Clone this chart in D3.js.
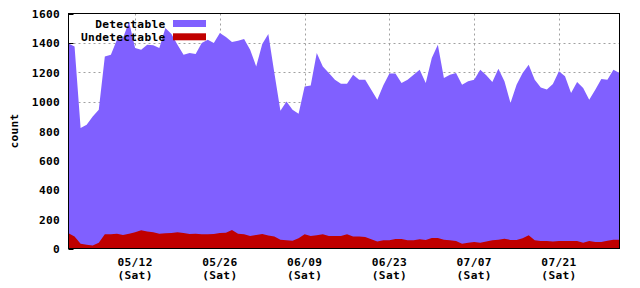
<!DOCTYPE html>
<html>
<head>
<meta charset="utf-8">
<script src="https://cdn.jsdelivr.net/npm/d3@7/dist/d3.min.js"></script>
<style>
  html, body { margin: 0; padding: 0; background: #fff; }
  svg { display: block; }
  text { font-family: "DejaVu Sans Mono", "Liberation Mono", monospace; font-weight: bold; font-size: 11.2px; letter-spacing: 0.3px; fill: #000; }
</style>
</head>
<body>
<svg id="chart" width="640" height="288"></svg>
<script>
// ---- data ----
const startDate = "2018-05-01";
const detectable = [
  1395, 1375, 820, 842, 899, 945, 1308, 1320, 1422, 1434,
  1543, 1365, 1354, 1388, 1383, 1365, 1502, 1461, 1388, 1320,
  1331, 1324, 1399, 1422, 1399, 1468, 1440, 1406, 1415, 1427,
  1354, 1240, 1393, 1461, 1195, 938, 1001, 945, 917, 1103,
  1110, 1331, 1240, 1195, 1149, 1122, 1122, 1183, 1149, 1149,
  1081, 1013, 1111, 1192, 1192, 1127, 1149, 1183, 1217, 1127,
  1297, 1388, 1161, 1183, 1195, 1115, 1138, 1149, 1217, 1179,
  1133, 1224, 1138, 990, 1115, 1195, 1251, 1149, 1097, 1083,
  1120, 1206, 1172, 1058, 1133, 1092, 1013, 1081, 1154, 1149,
  1217, 1195
];
const undetectable = [
  103, 82, 33, 26, 21, 40, 97, 97, 101, 92,
  101, 110, 124, 115, 110, 101, 103, 106, 110, 106,
  99, 101, 97, 97, 99, 106, 108, 126, 101, 97,
  85, 92, 99, 88, 81, 60, 56, 53, 69, 97,
  85, 90, 97, 85, 85, 85, 97, 82, 82, 79,
  63, 47, 56, 56, 65, 65, 56, 56, 63, 58,
  72, 72, 60, 56, 51, 33, 40, 44, 40, 47,
  56, 60, 67, 58, 58, 69, 90, 56, 51, 51,
  47, 51, 51, 51, 51, 40, 51, 44, 44, 53,
  60, 60
];
const seriesNames = ["Detectable", "Undetectable"];
const seriesColors = ["#8060ff", "#c00000"];
const yTicks = [0, 200, 400, 600, 800, 1000, 1200, 1400, 1600];
const xTickDates = ["2018-05-12", "2018-05-26", "2018-06-09", "2018-06-23", "2018-07-07", "2018-07-21"];
const xTickLabels = ["05/12", "05/26", "06/09", "06/23", "07/07", "07/21"];
const xTickSub = ["(Sat)", "(Sat)", "(Sat)", "(Sat)", "(Sat)", "(Sat)"];
const yTitle = "count";

// ---- layout ----
const L = 68.5, R = 619.5, T = 13.5, B = 248.5;
const parse = d3.utcParse("%Y-%m-%d");
const t0 = parse(startDate);
const dates = detectable.map((_, i) => d3.utcDay.offset(t0, i));

const x = d3.scaleUtc().domain([dates[0], dates[dates.length - 1]]).range([L, R]);
const y = d3.scaleLinear().domain([0, 1600]).range([B, T]);

const svg = d3.select("#chart");

// grid
const grid = svg.append("g").attr("stroke", "#a0a0a0").attr("stroke-width", 1).attr("stroke-dasharray", "2,3");
yTicks.filter(v => v > 0 && v < 1600).forEach(v => {
  const yy = Math.round(y(v)) + 0.5;
  grid.append("line").attr("x1", L).attr("x2", R).attr("y1", yy).attr("y2", yy);
});
xTickDates.forEach(d => {
  const xx = Math.round(x(parse(d))) + 0.5;
  grid.append("line").attr("x1", xx).attr("x2", xx).attr("y1", T).attr("y2", B);
});

// small inward ticks (behind areas)
const ticks = svg.append("g").attr("stroke", "#000").attr("stroke-width", 1);
yTicks.forEach(v => {
  const yy = Math.round(y(v)) + 0.5;
  ticks.append("line").attr("x1", L).attr("x2", L + 5).attr("y1", yy).attr("y2", yy);
});

// areas
const mk = vals => d3.area()
  .x((d, i) => x(dates[i]))
  .y0(y(0))
  .y1(d => y(d))
  .curve(d3.curveLinear)(vals);

svg.append("path").attr("d", mk(detectable)).attr("fill", seriesColors[0]);
svg.append("path").attr("d", mk(undetectable)).attr("fill", seriesColors[1]);

// frame
svg.append("rect").attr("x", L).attr("y", T).attr("width", R - L).attr("height", B - T)
  .attr("fill", "none").attr("stroke", "#000").attr("stroke-width", 1);

// y tick labels
yTicks.forEach(v => {
  svg.append("text").attr("x", 60).attr("y", y(v) + 4.5).attr("text-anchor", "end").text(v);
});

// x tick labels
xTickDates.forEach((d, i) => {
  const xx = x(parse(d));
  svg.append("text").attr("x", xx).attr("y", 265.5).attr("text-anchor", "middle").text(xTickLabels[i]);
  svg.append("text").attr("x", xx).attr("y", 278.5).attr("text-anchor", "middle").text(xTickSub[i]);
});

// y title
svg.append("text").attr("transform", "translate(18,131) rotate(-90)").attr("text-anchor", "middle").text(yTitle);

// legend
seriesNames.forEach((n, i) => {
  const yy = 20 + i * 13.3;
  svg.append("text").attr("x", 165.5).attr("y", yy + 8).attr("text-anchor", "end").text(n);
  svg.append("rect").attr("x", 173).attr("y", yy).attr("width", 33).attr("height", 7).attr("fill", seriesColors[i]);
});
</script>
</body>
</html>
